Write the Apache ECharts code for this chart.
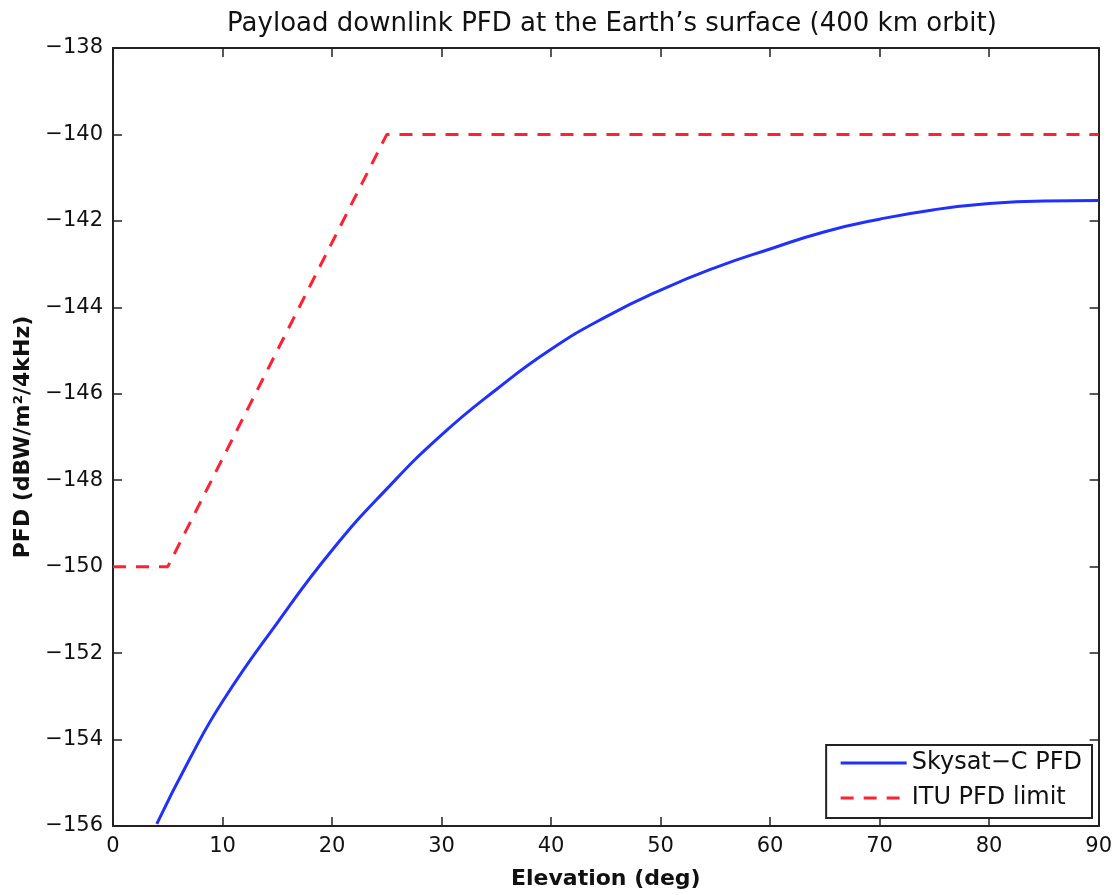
<!DOCTYPE html>
<html>
<head>
<meta charset="utf-8">
<script src="https://cdn.jsdelivr.net/npm/echarts@6/dist/echarts.min.js"></script>
<style>
  html, body { margin: 0; padding: 0; background: #fff; }
  #chart { width: 1115px; height: 895px; }
</style>
</head>
<body>
<div id="chart"></div>
<script>
// Skysat-C PFD curve (elevation in deg, PFD in dBW/m2/4kHz)
const elevation = [4, 7, 10, 15, 20, 25, 30, 35, 40, 45, 50, 55, 60, 65, 70, 75, 80, 85, 90]
const skysatPfd = [-155.95, -154.45, -153.12, -151.3, -149.62, -148.2, -146.95, -145.9, -144.97, -144.22,
  -143.6, -143.08, -142.65, -142.25, -141.96, -141.74, -141.6, -141.54, -141.53]

// ITU limit mask
const limitElev = [0, 5, 25, 90]
const limitPfd = [-150, -150, -140, -140]

const FONT = 'DejaVu Sans, Liberation Sans, Arial, sans-serif'
const minus = v => (v < 0 ? '\u2212' + Math.abs(v) : String(v))

const chart = echarts.init(document.getElementById('chart'))

const frameLine = { show: true, onZero: false, lineStyle: { color: '#222', width: 2 } }
const inTick = { show: true, inside: true, length: 9, lineStyle: { color: '#222', width: 1.5 } }

chart.setOption({
  backgroundColor: '#fff',
  animation: false,
  title: {
    text: 'Payload downlink PFD at the Earth\u2019s surface (400 km orbit)',
    left: 607,
    textAlign: 'center',
    top: 6,
    textStyle: { fontFamily: FONT, fontSize: 26, fontWeight: 'normal', color: '#111' }
  },
  grid: { left: 113, right: 14, top: 48, bottom: 67 },
  legend: {
    orient: 'vertical',
    right: 23,
    top: 745,
    itemWidth: 66,
    itemHeight: 14,
    itemGap: 11,
    padding: [6, 10, 8, 13],
    borderColor: '#222',
    borderWidth: 2,
    backgroundColor: '#fff',
    itemStyle: { opacity: 0 },
    lineStyle: { width: 3 },
    textStyle: { fontFamily: FONT, fontSize: 24, color: '#111' },
    data: ['Skysat\u2212C PFD', 'ITU PFD limit']
  },
  xAxis: [{
    type: 'value',
    min: 0, max: 90, interval: 10,
    name: 'Elevation (deg)',
    nameLocation: 'middle',
    nameGap: 42,
    nameTextStyle: { fontFamily: FONT, fontSize: 22, fontWeight: 'bold', color: '#111' },
    axisLine: frameLine,
    axisTick: inTick,
    axisLabel: { fontFamily: FONT, fontSize: 21, color: '#111', margin: 10 },
    splitLine: { show: false }
  }, {
    type: 'value',
    position: 'top',
    min: 0, max: 90, interval: 10,
    axisLine: frameLine,
    axisTick: inTick,
    axisLabel: { show: false },
    splitLine: { show: false }
  }],
  yAxis: [{
    type: 'value',
    min: -156, max: -138, interval: 2,
    name: 'PFD (dBW/m\u00b2/4kHz)',
    nameLocation: 'middle',
    nameRotate: 90,
    nameGap: 75,
    nameTextStyle: { fontFamily: FONT, fontSize: 22, fontWeight: 'bold', color: '#111' },
    axisLine: frameLine,
    axisTick: inTick,
    axisLabel: { fontFamily: FONT, fontSize: 21, color: '#111', margin: 10, formatter: minus },
    splitLine: { show: false }
  }, {
    type: 'value',
    position: 'right',
    min: -156, max: -138, interval: 2,
    axisLine: frameLine,
    axisTick: inTick,
    axisLabel: { show: false },
    splitLine: { show: false }
  }],
  series: [{
    name: 'Skysat\u2212C PFD',
    type: 'line',
    smooth: 0.5,
    symbol: 'none',
    data: elevation.map((e, i) => [e, skysatPfd[i]]),
    lineStyle: { color: '#2030ff', width: 3 },
    itemStyle: { color: '#2030ff' }
  }, {
    name: 'ITU PFD limit',
    type: 'line',
    symbol: 'none',
    clip: false,
    data: limitElev.map((e, i) => [e, limitPfd[i]]),
    lineStyle: { color: '#ff2030', width: 3, type: [13, 10] },
    itemStyle: { color: '#ff2030' }
  }]
})
</script>
</body>
</html>
